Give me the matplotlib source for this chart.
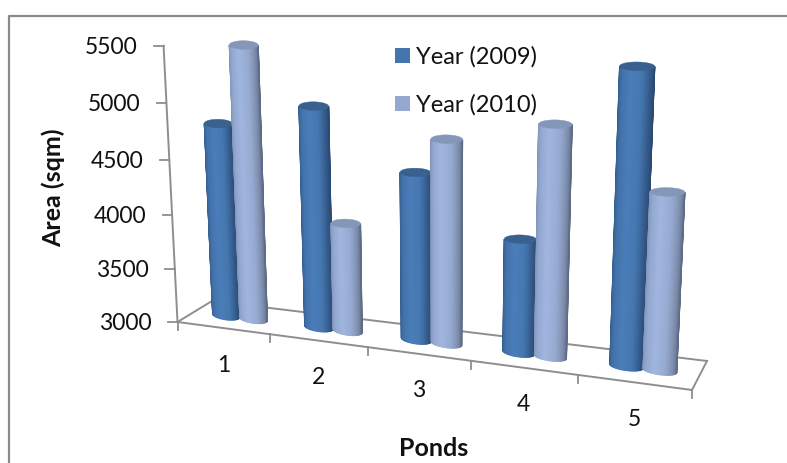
import numpy as np
import matplotlib
matplotlib.use("Agg")
import matplotlib.pyplot as plt
from matplotlib.colors import LinearSegmentedColormap
from matplotlib.patches import Polygon, Rectangle

# values
ponds = ["1", "2", "3", "4", "5"]
year_2009 = [4750, 4960, 4460, 3975, 5440]
year_2010 = [5445, 3965, 4760, 4945, 4470]
y_ticks = [3000, 3500, 4000, 4500, 5000, 5500]

W, H = 787, 464
FONT = ["Lato", "DejaVu Sans"]
GREY = "#8e8e8e"
INK = "#111111"

# floor corners of the 3D box, in pixels
FL, FR = np.array([177.5, 323.0]), np.array([692.0, 391.0])
BL, BR = np.array([212.0, 302.0]), np.array([707.0, 362.0])


def edge_t(u):
    # perspective along the category direction
    return u * 0.882 / (5 - 0.118 * u)


def floor(u, d):
    t = edge_t(u)
    return (FL + (FR - FL) * t) * (1 - d) + (BL + (BR - BL) * t) * d


def lift(v, u):
    w = (v - 3000) / 500.0
    return 52.5 * w / (1 - 0.00987 * w) * 5 / (5 - 0.118 * u)


def project(u, d, v):
    p = floor(u, d)
    h = lift(v, u)
    return p[0] + (p[0] - 440) * h / 5200, p[1] - h


def ring(u, v, r=0.15, n=60, start=0.0, stop=2 * np.pi):
    # tops sit almost level, the bases follow the slope of the floor
    tilt = 1.0 if v == y_ticks[0] else 0.2
    yc = project(u, 0.5, v)[1]
    pts = []
    for a in np.linspace(start, stop, n):
        x, y = project(u + r * np.cos(a), 0.5, v)
        pts.append((x, yc + (y - yc) * tilt - 4.3 * np.sin(a)))
    return np.array(pts)


def cylinder(ax, u, v, cmap, cap, z):
    # vertical strips, front half of the circle, left to right
    th = np.linspace(np.pi, 2 * np.pi, 46)
    for i in range(len(th) - 1):
        a, b = th[i], th[i + 1]
        lo = ring(u, y_ticks[0], start=a, stop=b, n=2)
        hi = ring(u, v, start=a, stop=b, n=2)
        col = cmap(i / (len(th) - 2))
        ax.add_patch(Polygon(np.vstack([lo, hi[::-1]]), closed=True,
                             fc=col, ec=col, lw=0.8, zorder=z + i * 0.001))
    ax.add_patch(Polygon(ring(u, v), closed=True, fc=cap, ec=cap, lw=0.3, zorder=z + 0.1))


cmap_09 = LinearSegmentedColormap.from_list("c09", ["#325a8a", "#4272aa", "#4b7db9", "#4577b0", "#34598a", "#2b4a72"])
cmap_10 = LinearSegmentedColormap.from_list("c10", ["#7e90b4", "#93a8d0", "#a0b6df", "#97abd2", "#7c8cab", "#5f6c86"])

fig = plt.figure(figsize=(W / 100, H / 100), dpi=100)
ax = fig.add_axes([0, 0, 1, 1])
ax.set_xlim(0, W)
ax.set_ylim(H, 0)
ax.axis("off")

# chart frame
ax.plot([9, 9, W], [H, 16.5, 16.5], color="#8a8a8a", lw=1.6, zorder=1)

# floor outline
for a, b in ((FL, FR), (FR, BR), (BR, BL), (BL, FL)):
    ax.plot([a[0], b[0]], [a[1], b[1]], color=GREY, lw=1.4, zorder=2)
for i in range(len(ponds) + 1):
    p = floor(i, 0)
    ax.plot([p[0], p[0]], [p[1], p[1] + 8], color=GREY, lw=1.3, zorder=2)

# value axis
y_top = project(0, 0, y_ticks[-1])
ax.plot([FL[0], y_top[0]], [FL[1], y_top[1]], color=GREY, lw=1.4, zorder=2)
for v in y_ticks:
    x, y = project(0, 0, v)
    ax.plot([x - 9.5, x], [y, y], color=GREY, lw=1.3, zorder=2)
    ax.text(x - 26, y + 0.5, str(v), ha="right", va="center", fontsize=16.5, family=FONT, color=INK)

# bars
for i, (a, b) in enumerate(zip(year_2009, year_2010)):
    cylinder(ax, i + 0.35, a, cmap_09, "#38618f", 3 + i)
    cylinder(ax, i + 0.65, b, cmap_10, "#8597b9", 3.5 + i)
    p = floor(i + 0.5, 0)
    ax.text(p[0], p[1] + 36, ponds[i], ha="center", va="center", fontsize=16.5, family=FONT, color=INK)

# legend
ax.add_patch(Rectangle((395, 49), 15, 15, fc="#4575ad", ec="none", zorder=20))
ax.add_patch(Rectangle((395, 97), 15, 15, fc="#94a8d0", ec="none", zorder=20))
ax.text(416, 57, "Year (2009)", ha="left", va="center", fontsize=17, family=FONT, color=INK, zorder=20)
ax.text(416, 105, "Year (2010)", ha="left", va="center", fontsize=17, family=FONT, color=INK, zorder=20)

# axis titles
ax.text(53, 188, "Area (sqm)", rotation=90, ha="center", va="center", fontsize=18, fontweight="bold", family=FONT, color=INK)
ax.text(434, 449, "Ponds", ha="center", va="center", fontsize=18, fontweight="bold", family=FONT, color=INK)

fig.savefig("out.png", dpi=100)
